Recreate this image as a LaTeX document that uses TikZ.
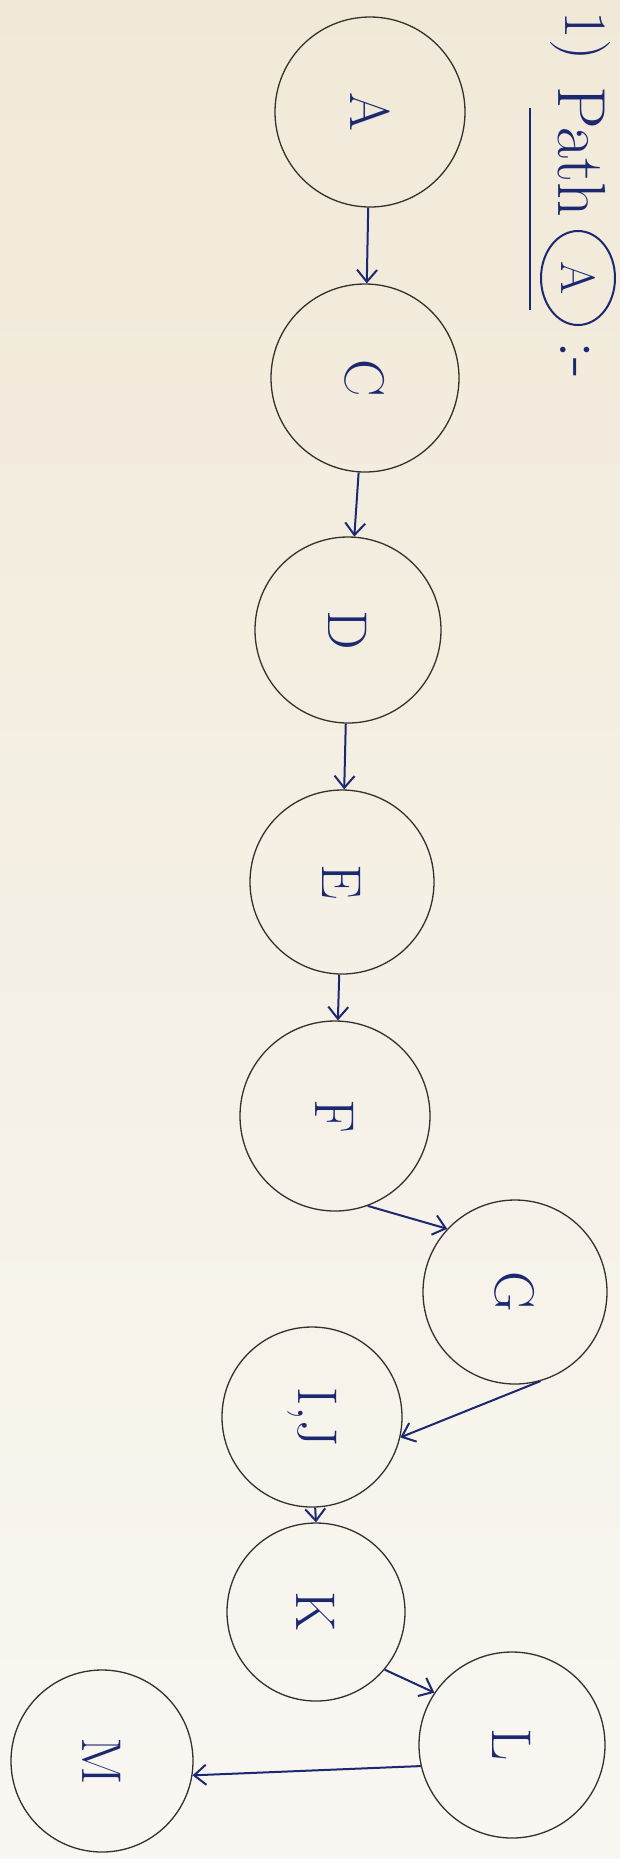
\documentclass[tikz,border=0pt]{standalone}
\usepackage{graphicx}
\usetikzlibrary{arrows.meta,shapes.geometric}
\definecolor{ink}{RGB}{28,40,112}
\definecolor{pencil}{RGB}{52,48,44}
\definecolor{paperA}{RGB}{241,233,216}
\definecolor{paperB}{RGB}{249,247,242}
\begin{document}
\begin{tikzpicture}[x=0.5pt,y=-0.5pt,
  st/.style={circle,draw=pencil,line width=0.65pt,inner sep=0pt,text=ink,
             font=\fontsize{28}{30}\selectfont},
  arr/.style={draw=ink,line width=1pt,-{Straight Barb[length=6pt,width=10pt,line width=1pt]}},
  ttl/.style={rotate=-90,text=ink,inner sep=0pt,font=\fontsize{34}{36}\selectfont}]
\useasboundingbox (0,0) rectangle (620,1859);
\shade[top color=paperA,bottom color=paperB] (0,0) rectangle (620,1859);
% title
\node[ttl,font=\fontsize{30}{32}\selectfont] (t1) at (580,36) {1)};
\node[ttl] (tpath) at (582,152) {Path};
\node[ttl,ellipse,draw=ink,line width=1pt,minimum width=47pt,minimum height=37pt,
      font=\fontsize{24}{26}\selectfont] (tA) at (578,278) {A};
\node[ttl] (tcol) at (575,360) {:-};
\coordinate (u1) at (530,108);
\coordinate (u2) at (530,310);
\draw[ink,line width=1pt] (u1) -- (u2);
% states
\node[st,minimum size=95pt] (A) at (370,112) {\rotatebox{-90}{A}};
\node[st,minimum size=94pt] (C) at (365,378) {\rotatebox{-90}{C}};
\node[st,minimum size=93pt] (D) at (348,630) {\rotatebox{-90}{D}};
\node[st,minimum size=92pt] (E) at (342,882) {\rotatebox{-90}{E}};
\node[st,minimum size=95pt] (F) at (335,1116) {\rotatebox{-90}{F}};
\node[st,minimum size=92pt] (G) at (515,1292) {\rotatebox{-90}{G}};
\node[st,minimum size=90pt] (IJ) at (312,1417) {\rotatebox{-90}{I,J}};
\node[st,minimum size=89pt] (K) at (316,1612) {\rotatebox{-90}{K}};
\node[st,minimum size=93pt] (L) at (512,1745) {\rotatebox{-90}{L}};
\node[st,minimum size=91pt] (M) at (102,1761) {\rotatebox{-90}{M}};
% connectors
\draw[arr] (A) -- (C);
\draw[arr] (C) -- (D);
\draw[arr] (D) -- (E);
\draw[arr] (E) -- (F);
\draw[arr] (F.-70) -- (G.137);
\draw[arr] (G.-74) -- (IJ.-13);
\draw[arr] (IJ.-88) -- (K.90);
\draw[arr] (K.-40) -- (L.146);
\draw[arr] (L.-167) -- (M.-9);
\end{tikzpicture}
\end{document}
